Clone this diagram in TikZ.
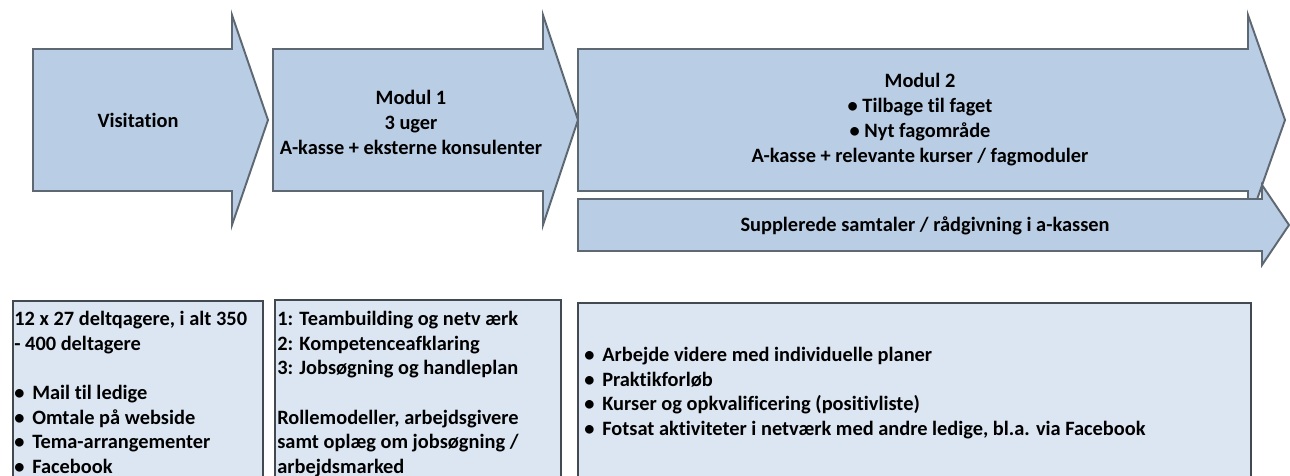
\documentclass[tikz,border=0pt]{standalone}
\usepackage{fontspec}
\setmainfont{Carlito}[Ligatures=NoCommon]
\definecolor{arrowblue}{HTML}{B9CDE5}
\definecolor{boxblue}{HTML}{DCE6F2}
\definecolor{edgegrey}{HTML}{5E6873}
\tikzset{
  stagearrow/.style={draw=edgegrey, line width=1.1pt, fill=arrowblue, line join=miter},
  infobox/.style={draw=edgegrey!70!black, line width=1.3pt, fill=boxblue},
  stagetext/.style={font=\bfseries\fontsize{11.6}{14.2}\selectfont, align=center, inner sep=0pt},
  infotext/.style={font=\bfseries\fontsize{11.6}{14}\selectfont, align=left, inner sep=0pt, anchor=north west}
}
\newcommand{\pkt}{\makebox[10.2pt][l]{\textbullet}}
\begin{document}
\begin{tikzpicture}[x=0.02cm, y=-0.02cm]
  \useasboundingbox (0,0) rectangle (1290,476);
  \clip (0,0) rectangle (1290,476);
  % stage arrows
  \draw[stagearrow] (33,49) -- (232,49) -- (232,15) -- (268,120) -- (232,225) -- (232,191) -- (33,191) -- cycle;
  \draw[stagearrow] (273,49) -- (543,49) -- (543,15) -- (578,120) -- (543,225) -- (543,191) -- (273,191) -- cycle;
  \draw[stagearrow] (578,49) -- (1248,49) -- (1248,15) -- (1285,120) -- (1248,225) -- (1248,191) -- (578,191) -- cycle;
  \draw[stagearrow] (578,199) -- (1262,199) -- (1262,185) -- (1289,225) -- (1262,265) -- (1262,251) -- (578,251) -- cycle;
  \node[stagetext] (visitation) at (138,120) {Visitation};
  \node[stagetext] (modul1) at (411,122) {Modul 1\\3 uger\\A-kasse + eksterne konsulenter};
  \node[stagetext] (modul2) at (920,120) {Modul 2\\\textbullet\ Tilbage til faget\\\textbullet\ Nyt fagområde\\A-kasse + relevante kurser / fagmoduler};
  \node[stagetext] (samtaler) at (925,226) {Supplerede samtaler / rådgivning i a-kassen};
  % info boxes
  \draw[infobox] (13,301) rectangle (263,500);
  \draw[infobox] (275,300) rectangle (561,500);
  \draw[infobox] (578,303) rectangle (1251,500);
  \node[infotext] (deltagere) at (14,311) {12 x 27 deltqagere, i alt 350\\- 400 deltagere\\[14pt]
    \pkt Mail til ledige\\\pkt Omtale på webside\\\pkt Tema-arrangementer\\\pkt Facebook};
  \node[infotext] (forloeb) at (277,311) {1: Teambuilding og netv ærk\\2: Kompetenceafklaring\\3: Jobsøgning og handleplan\\[14pt]
    Rollemodeller, arbejdsgivere\\samt oplæg om jobsøgning /\\arbejdsmarked};
  \node[infotext] (aktiviteter) at (584,347) {\pkt Arbejde videre med individuelle planer\\\pkt Praktikforløb\\
    \pkt Kurser og opkvalificering (positivliste)\\\pkt Fotsat aktiviteter i netværk med andre ledige, bl.a. via Facebook};
\end{tikzpicture}
\end{document}
